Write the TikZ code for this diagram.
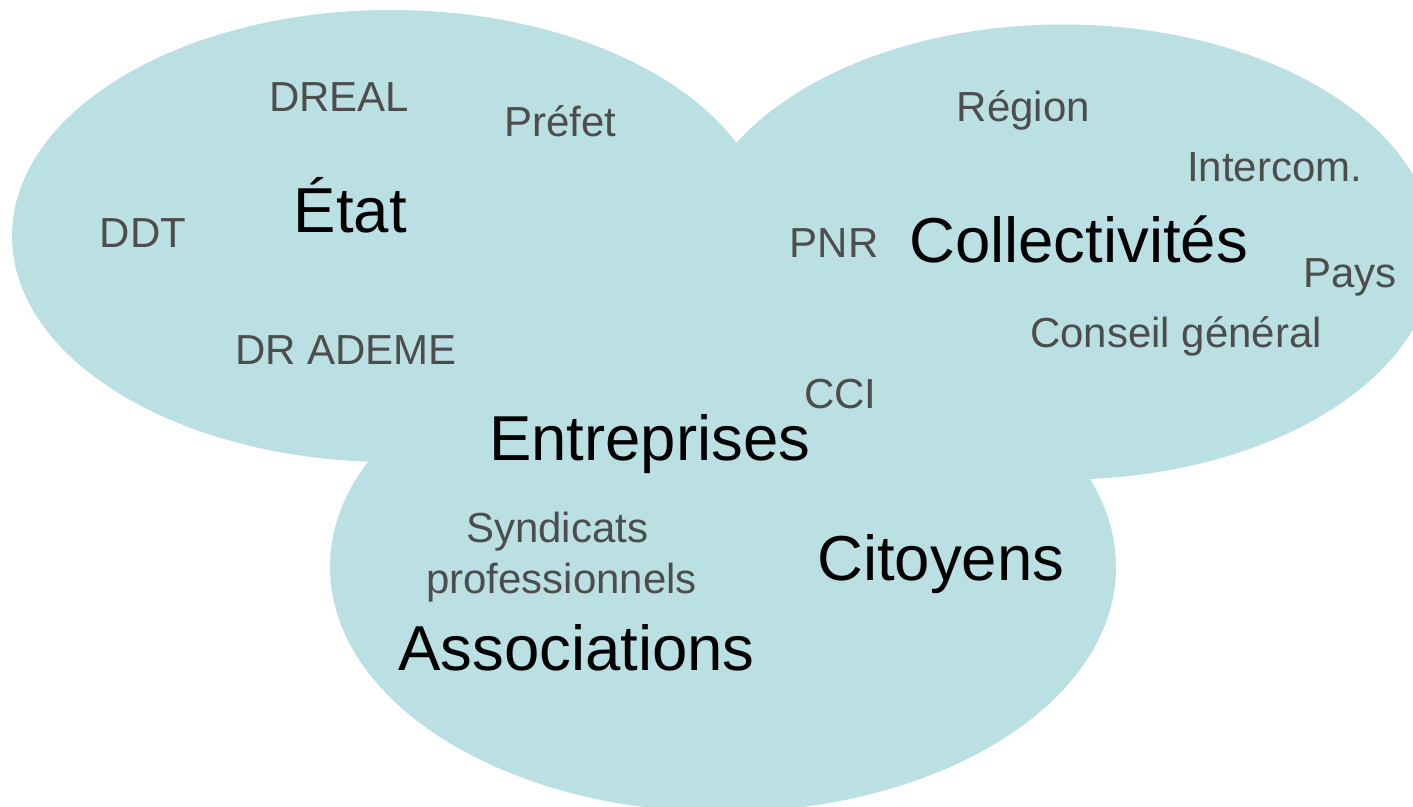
\documentclass[tikz,border=0pt]{standalone}
\usepackage{fontspec}
\setmainfont{Liberation Sans}
\definecolor{blob}{RGB}{186,224,227}
\definecolor{subtxt}{RGB}{77,77,77}
\begin{document}
\begin{tikzpicture}[x=1pt,y=-1pt,
  blobshape/.style={fill=blob,draw=none},
  major/.style={anchor=base west,inner sep=0pt,text=black,font=\fontsize{63.5}{70}\selectfont},
  minor/.style={anchor=base west,inner sep=0pt,text=subtxt,font=\fontsize{42}{49}\selectfont}]
\useasboundingbox (0,0) rectangle (1413,806);
\fill[white] (0,0) rectangle (1413,806);
% three overlapping ellipses
\path[blobshape] (391,236) ellipse [x radius=379, y radius=226];
\path[blobshape] (1063,252) ellipse [x radius=372, y radius=227.5];
\path[blobshape] (723,567) ellipse [x radius=393, y radius=245];
% Etat
\node[minor] (dreal) at (269,111.7) {DREAL};
\node[minor] (prefet) at (504,136.7) {Préfet};
\node[major] (etat) at (293.6,232.7) {État};
\node[minor] (ddt) at (99.6,247) {DDT};
\node[minor] (ademe) at (235,364) {DR ADEME};
% Collectivites
\node[minor] (region) at (956.5,121.7) {Région};
\node[minor] (intercom) at (1187,181.7) {Intercom.};
\node[minor] (pnr) at (789.7,257.7) {PNR};
\node[major] (coll) at (909,262.3) {Collectivités};
\node[minor] (pays) at (1302.8,287) {Pays};
\node[minor] (cg) at (1030,347.7) {Conseil général};
\node[minor] (cci) at (804,408.3) {CCI};
% bottom
\node[major] (entr) at (489,460) {Entreprises};
\node[minor] (synd) at (466,542.7) {Syndicats};
\node[minor] (prof) at (426,593) {professionnels};
\node[major] (cit) at (817,580) {Citoyens};
\node[major] (assoc) at (398,670) {Associations};
\end{tikzpicture}
\end{document}
